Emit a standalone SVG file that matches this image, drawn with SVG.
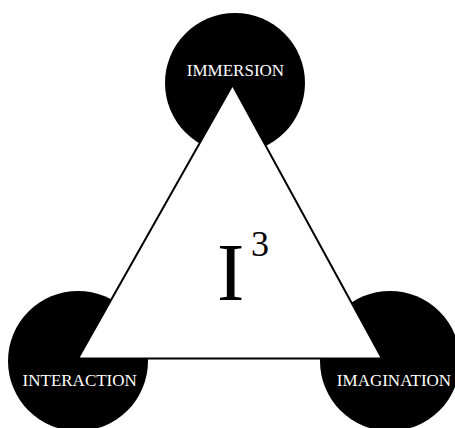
<svg xmlns="http://www.w3.org/2000/svg" width="455" height="428" viewBox="0 0 455 428">
<style>
.c{fill:#000}
.lbl{font-family:"Liberation Serif","Times New Roman",serif;font-size:17px;fill:#fff;text-anchor:middle}
.big{font-family:"Liberation Serif","Times New Roman",serif;fill:#000}
</style>
<rect width="455" height="428" fill="#fff"/>
<g id="immersion"><circle class="c" cx="235" cy="83" r="70"/></g>
<g id="interaction"><circle class="c" cx="78" cy="361" r="70"/></g>
<g id="imagination"><circle class="c" cx="390" cy="361" r="70"/></g>
<g id="triangle">
<polygon points="232.5,85 78,358.5 382,358.5" fill="#fff" stroke="#000" stroke-width="2"/>
<text class="big" x="217" y="300" font-size="82">I</text>
<text class="big" x="251" y="256" font-size="36">3</text>
</g>
<g id="labels">
<text class="lbl" x="235.5" y="76">IMMERSION</text>
<text class="lbl" x="79.7" y="386">INTERACTION</text>
<text class="lbl" x="394" y="386">IMAGINATION</text>
</g>
<g id="connectors"/>
</svg>
